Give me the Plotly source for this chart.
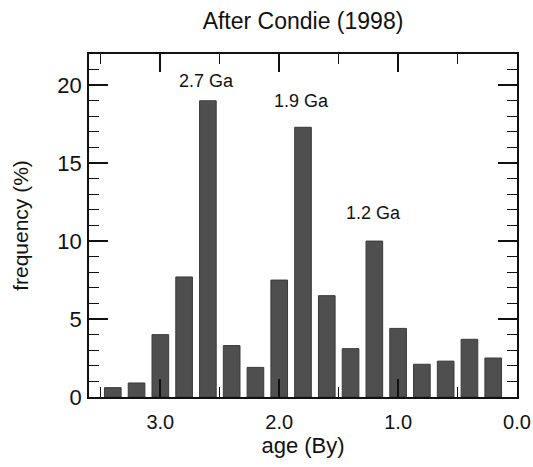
import plotly.graph_objects as go

ages = [3.4, 3.2, 3.0, 2.8, 2.6, 2.4, 2.2, 2.0, 1.8, 1.6, 1.4, 1.2, 1.0, 0.8, 0.6, 0.4, 0.2]
freq = [0.6, 0.9, 4.0, 7.7, 19.0, 3.3, 1.9, 7.5, 17.3, 6.5, 3.1, 10.0, 4.4, 2.1, 2.3, 3.7, 2.5]
peak_labels = ["2.7 Ga", "1.9 Ga", "1.2 Ga"]
peak_x = [2.61, 1.81, 1.21]
peak_y = [20.3, 19.0, 11.8]

FONT = "Liberation Sans, Arial, Helvetica, sans-serif"

fig = go.Figure()
fig.add_trace(go.Bar(
    x=ages, y=freq, width=0.14,
    marker=dict(color="#4f4f4f", line=dict(color="#3a3a3a", width=1)),
))

for t, x, y in zip(peak_labels, peak_x, peak_y):
    fig.add_annotation(x=x, y=y, text=t, showarrow=False,
                       font=dict(size=18, color="#111", family=FONT))

fig.update_layout(
    width=533, height=467,
    margin=dict(l=89, r=16, t=54, b=70),
    paper_bgcolor="white", plot_bgcolor="white",
    showlegend=False,
    font=dict(family=FONT, color="#111"),
    title=dict(text="After Condie (1998)", x=0.5, xanchor="center", xref="paper",
               y=1 - 21 / 467, yanchor="middle", font=dict(size=23, color="#111")),
)

fig.update_xaxes(
    range=[3.6, 0.0], tick0=0, dtick=1, tickformat=".1f",
    ticks="inside", ticklen=18, tickwidth=1.5, tickcolor="#111",
    minor=dict(dtick=0.5, ticks="inside", ticklen=10, tickwidth=1.2, tickcolor="#111"),
    showline=True, linecolor="#111", linewidth=1.5, mirror="ticks",
    showgrid=False, zeroline=False, automargin=False,
    tickfont=dict(size=20, color="#111"), ticklabelstandoff=6,
    title=dict(text="age (By)", font=dict(size=22, color="#111"), standoff=1),
)
fig.update_yaxes(
    range=[0, 22], tick0=0, dtick=5,
    ticks="inside", ticklen=19, tickwidth=1.5, tickcolor="#111",
    minor=dict(dtick=1, ticks="inside", ticklen=10, tickwidth=1.2, tickcolor="#111"),
    showline=True, linecolor="#111", linewidth=1.5, mirror="ticks",
    showgrid=False, zeroline=False, automargin=False,
    tickfont=dict(size=22, color="#111"), ticklabelstandoff=1,
    title=dict(text="frequency (%)", font=dict(size=21, color="#111"), standoff=23),
)

fig.write_html("out.html", config={"displayModeBar": False},
               post_script="document.body.style.margin='0px';")
